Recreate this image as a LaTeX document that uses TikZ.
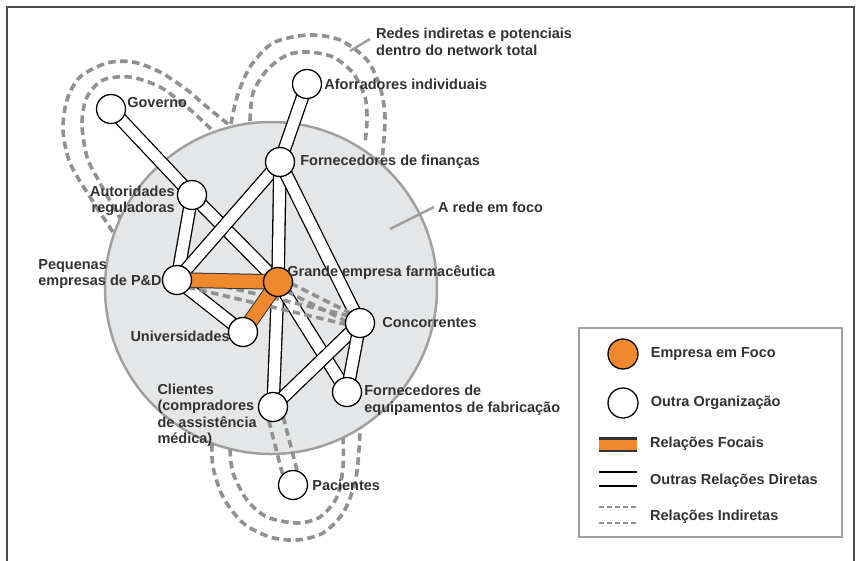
\documentclass[tikz,border=0pt]{standalone}
\usepackage{fontspec}
\setmainfont{Liberation Sans}
\usepackage{tikz}
\usetikzlibrary{positioning}
\usetikzlibrary{calc}
\usetikzlibrary{backgrounds}
\definecolor{focoorange}{RGB}{240,136,46}
\definecolor{redegray}{RGB}{229,230,231}
\definecolor{bordagray}{RGB}{160,160,160}
\definecolor{dashgray}{RGB}{145,145,145}
\definecolor{textgray}{RGB}{50,50,50}
\tikzset{
    mynode/.style = {circle, line width=1.3pt, draw=black, fill=white, minimum size=29pt, inner sep=0pt},
    mynodeo/.style = {circle, line width=1.3pt, draw=black, fill=focoorange, minimum size=29pt, inner sep=0pt},
    mytext/.style = {inner sep=0pt, align=left, text=textgray, font=\fontsize{14.5}{16.5}\selectfont\bfseries},
    edgen/.style = {line width=1.3pt, draw=black, double=white, double distance=11pt}, % direct
    edgeo/.style = {line width=1pt, draw=black!80, double=focoorange, double distance=13.5pt}, % focal
    edgegd/.style = {line width=3.6pt, dashgray, dash pattern=on 7.5pt off 4.5pt}, % indirect
    pointer/.style = {line width=2.5pt, bordagray}
}

\begin{document}
\begin{tikzpicture}[x=1pt, y=-1pt]
  \useasboundingbox (0,0) rectangle (865,560);
  % organisations
  \node[mynode] (gov) at (111,109) {};
  \node[mynode] (afo) at (307,84) {};
  \node[mynode] (fin) at (280,162) {};
  \node[mynode] (aut) at (192,195) {};
  \node[mynode] (peq) at (177,280) {};
  \node[mynodeo] (grd) at (278,282) {};
  \node[mynode] (uni) at (243,332) {};
  \node[mynode] (con) at (360,323) {};
  \node[mynode] (cli) at (273,407) {};
  \node[mynode] (feq) at (347,392) {};
  \node[mynode] (pac) at (293,485) {};
  % names
  \node[mytext, right=1pt of gov, yshift=6pt] (govl) {Governo};
  \node[mytext, right=2pt of afo] (afol) {Aforradores individuais};
  \node[mytext, right=5pt of fin] (finl) {Fornecedores de finanças};
  \node[mytext, left=2pt of aut, yshift=-6pt, align=right] (autl) {Autoridades\\reguladoras};
  \node[mytext, left=0pt of peq, yshift=6pt] (peql) {Pequenas\\empresas de P\&D};
  \node[mytext, right=-6pt of grd, yshift=9pt] (grdl) {Grande empresa farmacêutica};
  \node[mytext, left=-2pt of uni, yshift=-4pt] (unil) {Universidades};
  \node[mytext, right=7pt of con] (conl) {Concorrentes};
  \node[mytext, left=1pt of cli, yshift=-8pt] (clil) {Clientes\\(compradores\\de assistência\\médica)};
  \node[mytext, right=2pt of feq, yshift=-8pt] (feql) {Fornecedores de\\equipamentos de fabricação};
  \node[mytext, right=4pt of pac] (pacl) {Pacientes};
  \node[mytext, anchor=west] (redes) at (376,42) {Redes indiretas e potenciais\\dentro do network total};
  \node[mytext, anchor=west] (focol) at (438,207) {A rede em foco};
  % legend
  \node[mynodeo, minimum size=30pt] (lfoc) at (623,354) {};
  \node[mytext, right=12pt of lfoc] (lfocl) {Empresa em Foco};
  \node[mynode, minimum size=30pt] (lorg) at (623,403) {};
  \node[mytext, right=12pt of lorg] (lorgl) {Outra Organização};
  \coordinate (lfa) at (599,444.5);
  \coordinate (lfb) at (637,444.5);
  \node[mytext, anchor=west] (lfl) at (650,444) {Relações Focais};
  \coordinate (lda) at (599,479);
  \coordinate (ldb) at (637,479);
  \node[mytext, anchor=west] (ldl) at (650,481) {Outras Relações Diretas};
  \coordinate (lia) at (599,515);
  \coordinate (lib) at (637,515);
  \node[mytext, anchor=west] (lil) at (650,517) {Relações Indiretas};
  \coordinate (redesp) at (350,51);
  \coordinate (focop) at (390,229);

  \begin{pgfonlayer}{background}
    \fill[white] (0,0) rectangle (865,560);
    \draw[line width=2.2pt, black!70] (7,562) -- (7,7) -- (854,7) -- (854,562);
    \draw[line width=1.3pt, bordagray] (579,328) rectangle (842,537);
    % the network in focus
    \draw[line width=2.5pt, draw=bordagray, fill=redegray] (271,288) circle[radius=166pt];
    \draw[pointer] ([xshift=-6pt,yshift=3pt]redes.west) -- (redesp);
    \draw[pointer] ([xshift=-4pt]focol.west) -- (focop);
    % total network
    \draw[edgegd] plot[smooth] coordinates {(228,124) (207,107) (187,90) (160,72) (133,62) (107,63) (80,77) (67,100) (63,130) (70,163) (90,197) (113,232)};
    \draw[edgegd] plot[smooth] coordinates {(211,129) (187,107) (160,87) (130,77) (103,80) (87,97) (82,123) (87,157) (100,183) (120,218)};
    \draw[edgegd] plot[smooth] coordinates {(231,124) (237,97) (250,67) (273,43) (308,35) (340,40) (367,60) (380,87) (385,117) (382,161)};
    \draw[edgegd] plot[smooth] coordinates {(250,121) (253,93) (267,70) (287,55) (308,52) (333,57) (353,73) (365,97) (367,120) (365,143)};
    \draw[edgegd] plot[smooth] coordinates {(212,444) (213,467) (223,497) (243,523) (270,537) (297,540) (323,533) (343,513) (355,483) (359,450) (360,428)};
    \draw[edgegd] plot[smooth] coordinates {(230,449) (233,473) (247,500) (267,517) (297,523) (320,517) (337,497) (343,467) (343,438)};
    % direct
    \draw[edgen] (gov.center) -- (aut.center);
    \draw[edgen] (aut.center) -- (grd.center);
    \draw[edgen] (aut.center) -- (peq.center);
    \draw[edgen] (fin.center) -- (peq.center);
    \draw[edgen] (afo.center) -- (fin.center);
    \draw[edgen] (fin.center) -- (grd.center);
    \draw[edgen] (fin.center) -- (con.center);
    \draw[edgen] (peq.center) -- (uni.center);
    \draw[edgen] (grd.center) -- (cli.center);
    \draw[edgen] (grd.center) -- (feq.center);
    \draw[edgen] (con.center) -- (cli.center);
    \draw[edgen] (con.center) -- (feq.center);
    % indirect
    \draw[edgegd] ($(peq.center)!4.5pt!90:(con.center)$) -- ($(con.center)!4.5pt!-90:(peq.center)$);
    \draw[edgegd] ($(peq.center)!4.5pt!-90:(con.center)$) -- ($(con.center)!4.5pt!90:(peq.center)$);
    \draw[edgegd] ($(grd.center)!4.5pt!90:(con.center)$) -- ($(con.center)!4.5pt!-90:(grd.center)$);
    \draw[edgegd] ($(grd.center)!4.5pt!-90:(con.center)$) -- ($(con.center)!4.5pt!90:(grd.center)$);
    \draw[edgegd] ($(cli.center)!7.5pt!90:(pac.center)$) -- ($(pac.center)!7.5pt!-90:(cli.center)$);
    \draw[edgegd] ($(cli.center)!7.5pt!-90:(pac.center)$) -- ($(pac.center)!7.5pt!90:(cli.center)$);
    % focal
    \draw[edgeo] (peq.center) -- (grd.center);
    \draw[edgeo] (grd.center) -- (uni.center);
    % legend lines
    \draw[edgeo, line width=2.5pt, double distance=10pt] (lfa) -- (lfb);
    \draw[edgen, line width=2.5pt, double distance=11.5pt] (lda) -- (ldb);
    \draw[edgegd, line width=2.8pt, dash pattern=on 5pt off 3pt] ([yshift=8pt]lia) -- ([yshift=8pt]lib);
    \draw[edgegd, line width=2.8pt, dash pattern=on 5pt off 3pt] ([yshift=-8pt]lia) -- ([yshift=-8pt]lib);
  \end{pgfonlayer}
\end{tikzpicture}
\end{document}
